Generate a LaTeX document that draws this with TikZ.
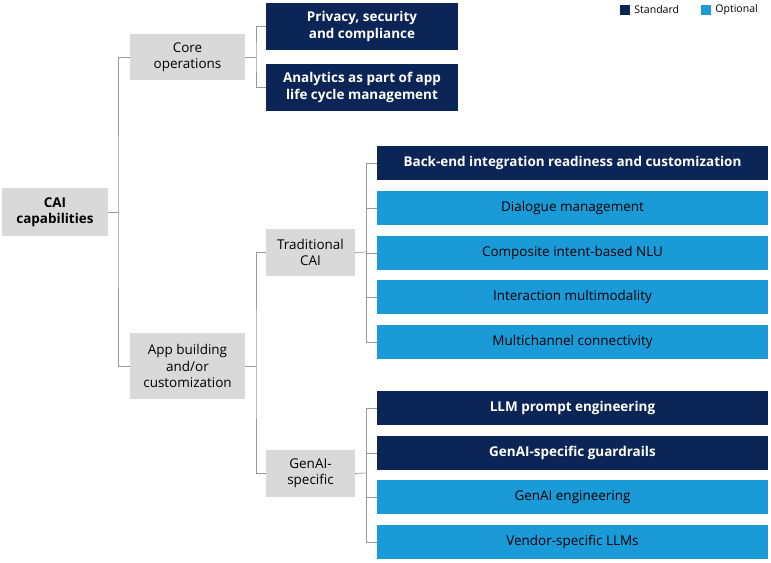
\documentclass[tikz,border=0pt]{standalone}
\usepackage{fontspec}
\setmainfont{Open Sans}
\definecolor{navy}{HTML}{0B2656}
\definecolor{sky}{HTML}{1A9AD7}
\definecolor{gr}{HTML}{D9D9D9}
\begin{document}
\begin{tikzpicture}[x=0.03cm,y=-0.03cm,
 font=\fontsize{11.5}{14}\selectfont,
 box/.style={draw=none,inner sep=0,align=center},
 g/.style={box,fill=gr,text=black},
 s/.style={box,fill=navy,text=white,font=\fontsize{11.5}{14}\selectfont\bfseries},
 o/.style={box,fill=sky,text=black},
 ln/.style={draw=gray!80,line width=0.6pt}]
\useasboundingbox (0,0) rectangle (771,563);
\newcommand\bx[6]{\node[#1,minimum width={(#4-#2)*0.03cm},minimum height={(#5-#3)*0.03cm}] (#6) at ({(#2+#4)/2},{(#3+#5)/2})}
\bx{g}{2}{188}{108}{236}{root}{\textbf{CAI}\\\textbf{capabilities}};
\bx{g}{130}{34}{245}{80}{core}{Core\\operations};
\bx{g}{130}{333}{245}{399}{app}{App building\\and/or\\customization};
\bx{s}{266}{3}{458}{50}{p1}{Privacy, security\\and compliance};
\bx{s}{266}{64}{458}{111}{p2}{Analytics as part of app\\life cycle management};
\bx{g}{266}{229}{355}{276}{trad}{Traditional\\CAI};
\bx{g}{266}{450}{355}{497}{gen}{GenAI-\\specific};
\bx{s}{377}{146}{768}{180}{t1}{Back-end integration readiness and customization};
\bx{o}{377}{191}{768}{225}{t2}{Dialogue management};
\bx{o}{377}{236}{768}{270}{t3}{Composite intent-based NLU};
\bx{o}{377}{280}{768}{314}{t4}{Interaction multimodality};
\bx{o}{377}{325}{768}{359}{t5}{Multichannel connectivity};
\bx{s}{377}{391}{768}{425}{g1}{LLM prompt engineering};
\bx{s}{377}{436}{768}{470}{g2}{GenAI-specific guardrails};
\bx{o}{377}{480}{768}{514}{g3}{GenAI engineering};
\bx{o}{377}{525}{768}{559}{g4}{Vendor-specific LLMs};
% connectors
\draw[ln] (root.east) -- (118,212);
\draw[ln] (core.west) -| (118,212) |- (app.west);
\draw[ln] (core.east) -- (256,57);
\draw[ln] (p1.west) -| (256,57) |- (p2.west);
\draw[ln] (app.east) -- (256,366);
\draw[ln] (trad.west) -| (256,366) |- (gen.west);
\draw[ln] (trad.east) -- (366,252);
\foreach \n in {t1,t2,t3,t4,t5}{\draw[ln] (\n.west) -| (366,252);}
\draw[ln] (gen.east) -- (366,473);
\foreach \n in {g1,g2,g3,g4}{\draw[ln] (\n.west) -| (366,473);}
% legend
\node[fill=navy,minimum size=0.3cm,inner sep=0] (ls) at (625,10) {};
\node[anchor=west,font=\fontsize{9}{10}\selectfont,inner sep=1pt] (lst) at (633,10) {Standard};
\node[fill=sky,minimum size=0.3cm,inner sep=0] (lo) at (706,10) {};
\node[anchor=west,font=\fontsize{9}{10}\selectfont,inner sep=1pt] (lot) at (714,10) {Optional};
\end{tikzpicture}
\end{document}
